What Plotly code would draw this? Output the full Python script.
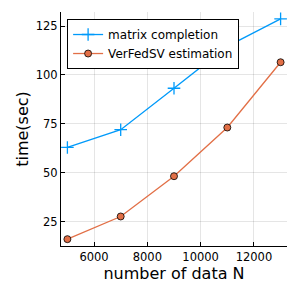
import plotly.graph_objects as go

N = [5000, 7000, 9000, 11000, 13000]
matrix_completion = [62.9, 72.0, 93.2, 114.6, 128.7]
verfedsv = [16.0, 27.6, 48.2, 73.1, 106.5]
x_ticks = [6000, 8000, 10000, 12000]
x_tick_labels = ["6000", "8000", "10000", "12000"]
y_ticks = [25, 50, 75, 100, 125]
y_tick_labels = ["25", "50", "75", "100", "125"]

FONT = "DejaVu Sans"
fig = go.Figure()
fig.add_trace(go.Scatter(
    x=N, y=matrix_completion, mode="lines+markers", name="matrix completion",
    line=dict(color="#009AFA", width=1.3),
    marker=dict(symbol="cross-thin", size=9, line=dict(color="#009AFA", width=1.3)),
))
fig.add_trace(go.Scatter(
    x=N, y=verfedsv, mode="lines+markers", name="VerFedSV estimation",
    line=dict(color="#E26F46", width=1.3),
    marker=dict(symbol="circle", size=7, color="#E26F46", line=dict(color="black", width=0.8)),
))

axis_common = dict(
    showgrid=True, gridcolor="rgba(0,0,0,0.1)", gridwidth=1,
    showline=True, linecolor="black", linewidth=1, mirror=False,
    ticks="inside", ticklen=4, tickcolor="black", zeroline=False,
    tickfont=dict(family=FONT, size=11.5, color="black"),
    automargin=False,
)
fig.update_xaxes(range=[4760, 13240], tickvals=x_ticks, ticktext=x_tick_labels,
                 title=dict(text="number of data N", font=dict(family=FONT, size=16, color="black"), standoff=2),
                 **axis_common)
fig.update_yaxes(range=[12.5, 132.2], tickvals=y_ticks, ticktext=y_tick_labels,
                 title=dict(text="time(sec)", font=dict(family=FONT, size=16, color="black"), standoff=3),
                 **axis_common)
fig.update_layout(
    width=299, height=299,
    margin=dict(l=61, r=12, t=12, b=53, autoexpand=False),
    plot_bgcolor="white", paper_bgcolor="white",
    font=dict(family=FONT, size=12, color="black"),
    legend=dict(x=0.027, y=0.97, xanchor="left", yanchor="top",
                bordercolor="black", borderwidth=1, bgcolor="white",
                font=dict(family=FONT, size=12, color="black"),
                tracegroupgap=0, itemwidth=30),
    showlegend=True,
)
fig.write_html("out.html", config={"displayModeBar": False},
               post_script="document.body.style.margin='0';document.body.style.padding='0';")
